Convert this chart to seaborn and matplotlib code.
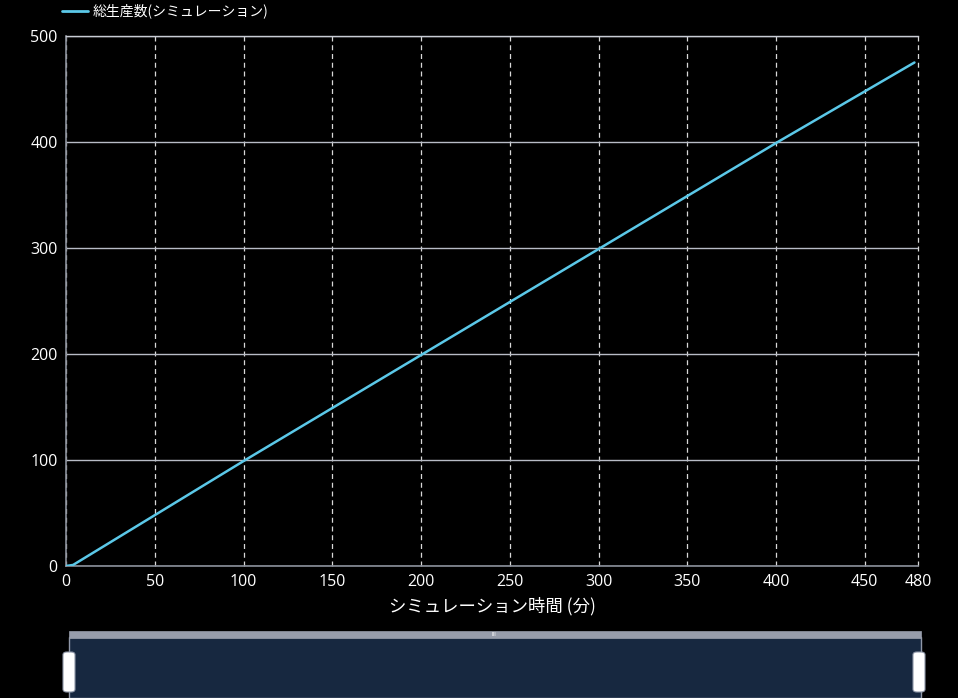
import matplotlib
matplotlib.use("Agg")
import matplotlib.pyplot as plt
import seaborn as sns
import pandas as pd
from matplotlib.patches import Rectangle, FancyBboxPatch

# data
times = [0, 4, 101, 201, 301, 401, 478]
produced = [0, 1, 100, 200, 300, 400, 475]
x_ticks = [0, 50, 100, 150, 200, 250, 300, 350, 400, 450, 480]
y_ticks = [0, 100, 200, 300, 400, 500]
series_name = "総生産数(シミュレーション)"
x_label = "シミュレーション時間 (分)"

sns.set_theme(style="dark")
plt.rcParams['font.family'] = ['Noto Sans CJK JP', 'DejaVu Sans']

df = pd.DataFrame({"time": times, "value": produced, "series": series_name})

fig = plt.figure(figsize=(9.58, 6.98), dpi=100, facecolor="black")
ax = fig.add_axes([66/958, 132/698, 852/958, 530/698])
ax.set_facecolor("black")

sns.lineplot(data=df, x="time", y="value", hue="series", palette=["#5bc8e8"],
             linewidth=1.8, ax=ax, legend=False, zorder=5)

ax.set_xlim(0, 480)
ax.set_ylim(0, 500)
ax.set_xticks(x_ticks)
ax.set_yticks(y_ticks)
ax.tick_params(axis="both", colors="#8a8f9a", labelsize=11.5, length=4, width=1,
               labelcolor="white", pad=2)
for lab in ax.get_xticklabels() + ax.get_yticklabels():
    lab.set_fontfamily(["Open Sans", "DejaVu Sans"])

# grid
ax.yaxis.grid(True, color="#b8bcc6", linestyle="-", linewidth=1)
ax.xaxis.grid(True, color="#d8d8d8", linestyle=(0, (4, 3)), linewidth=0.9)
ax.set_axisbelow(True)
for gl in ax.get_xgridlines():
    gl.set_clip_on(False)

for side in ["left", "bottom"]:
    ax.spines[side].set_visible(True)
    ax.spines[side].set_color("#8a8f9a")
    ax.spines[side].set_linewidth(1.2)
ax.spines["top"].set_visible(True)
ax.spines["top"].set_color("#c8ccd4")
ax.spines["top"].set_linewidth(1)
ax.spines["right"].set_visible(False)

ax.set_xlabel(x_label, color="white", fontsize=12.5, labelpad=5)
ax.set_ylabel("")

# legend
fig.lines.append(plt.Line2D([62/958, 88/958], [1 - 11/698, 1 - 11/698],
                            transform=fig.transFigure, color="#5bc8e8", linewidth=2))
fig.text(93/958, 1 - 11/698, series_name, color="white", fontsize=10,
         va="center", ha="left")

# data zoom slider (decoration)
fig.patches.append(Rectangle((69/958, 0), (921-69)/958, (698-637)/698,
                             transform=fig.transFigure, facecolor="#172840",
                             edgecolor="#8f97a8", linewidth=1))
fig.patches.append(Rectangle((69/958, (698-638)/698), (921-69)/958, 7/698,
                             transform=fig.transFigure, facecolor="#979dab",
                             edgecolor="#979dab", linewidth=0.5))
fig.text(494/958, 1 - 634.5/698, "III", color="white", fontsize=4,
         ha="center", va="center")
for hx in (63, 913):
    fig.patches.append(FancyBboxPatch((hx/958, (698-692)/698), 12/958, 40/698,
                                      boxstyle="round,pad=0,rounding_size=0.004",
                                      transform=fig.transFigure, facecolor="white",
                                      edgecolor="#8f97a8", linewidth=0.8))

fig.savefig("out.png", dpi=100, facecolor="black")
